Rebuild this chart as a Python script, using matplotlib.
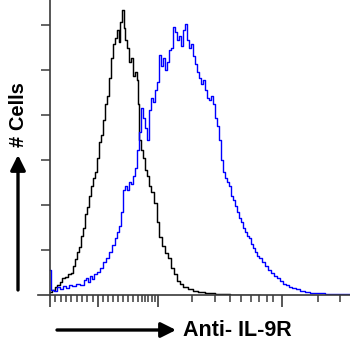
import matplotlib
matplotlib.use("Agg")
import matplotlib.pyplot as plt

plt.rcParams['font.family'] = ['Liberation Sans', 'DejaVu Sans']

# isotype control (black) - channel vs cell count
ctrl_x = [0, 3, 6, 8, 11, 13, 16, 19, 22, 24, 26, 28, 30, 32, 34, 36, 38, 40, 42, 44,
          46, 48, 50, 52, 54, 56, 58, 60, 62, 64, 66, 68, 69, 71, 73, 74, 76, 78, 80, 82,
          84, 86, 87, 88, 90, 92, 94, 96, 98, 100, 102, 105, 108, 110, 113, 116, 119, 122,
          125, 128, 131, 135, 140, 145, 150, 160, 170, 190, 210]
ctrl_y = [1.3, 2.2, 3.6, 4.4, 5.8, 7.6, 8.0, 9.3, 9.8, 12.9, 16.0, 19.1, 21.3, 26.2, 29.8,
          36.0, 39.1, 44.0, 48.4, 52.0, 54.7, 60.9, 68.0, 71.1, 77.8, 84.9, 88.4, 96.4, 105.3,
          111.6, 114.2, 117.8, 112.4, 121.3, 126.7, 118.7, 113.3, 109.8, 103.6, 105.3, 97.3,
          99.1, 95.6, 84.9, 68.9, 64.4, 60.9, 55.6, 52.9, 48.4, 45.8, 40.9, 32.4, 25.8, 21.8,
          18.7, 16.4, 12.0, 9.3, 6.2, 4.9, 3.6, 2.7, 1.8, 1.3, 0.9, 0.4, 0.2, 0.0]

# Anti-IL-9R stained (blue)
il9r_x = [0, 2, 5, 8, 11, 14, 17, 20, 24, 28, 32, 35, 37, 39, 41, 43, 45, 48, 51, 54,
          57, 60, 63, 66, 68, 70, 72, 74, 76, 78, 80, 82, 84, 86, 88, 90, 92, 94, 96, 98,
          100, 102, 104, 106, 108, 110, 112, 114, 116, 118, 120, 122, 124, 126, 128, 130,
          132, 134, 136, 138, 140, 142, 144, 146, 148, 150, 152, 154, 156, 158, 160, 162,
          164, 166, 168, 170, 172, 174, 176, 178, 180, 182, 184, 186, 188, 190, 192, 194,
          196, 198, 200, 202, 204, 206, 208, 210, 213, 216, 219, 222, 225, 228, 231, 234,
          237, 240, 244, 248, 252, 257, 262, 270, 280, 290, 300]
il9r_y = [11.1, 2.2, 1.8, 3.6, 2.7, 4.0, 3.1, 4.4, 4.0, 4.9, 4.4, 6.7, 7.6, 5.8, 8.4,
          7.1, 9.3, 10.2, 12.0, 14.7, 16.4, 19.1, 22.2, 25.3, 28.0, 30.7, 36.9, 46.7, 48.4,
          46.7, 50.2, 49.3, 52.9, 56.4, 64.4, 72.4, 83.1, 78.7, 74.2, 68.9, 82.2, 87.6, 85.8,
          91.1, 94.7, 106.7, 101.8, 105.3, 100.0, 103.6, 108.9, 109.8, 119.1, 116.9, 113.3,
          115.1, 110.7, 117.8, 120.4, 113.3, 109.8, 111.6, 106.2, 102.7, 99.1, 96.4, 93.8,
          95.6, 91.1, 87.6, 86.7, 88.4, 84.9, 78.7, 75.1, 68.9, 60.0, 54.7, 52.0, 50.2, 48.4,
          44.0, 42.2, 39.6, 36.9, 34.2, 32.4, 29.8, 28.0, 26.2, 25.3, 22.7, 20.9, 19.1, 17.3,
          16.4, 14.7, 12.9, 11.1, 9.8, 8.4, 7.6, 6.2, 4.9, 4.4, 3.6, 3.1, 2.7, 1.8, 1.3, 0.9,
          0.9, 0.4, 0.4, 0.4]

# axis ticks (biexponential-like display scale)
major_ticks = [0, 48, 108, 232]
minor_ticks = [5.3, 10.7, 16, 21.3, 26.7, 32, 37.3, 42.7, 53, 58, 63, 68, 73, 78, 83, 88,
               92, 95, 98, 102, 105, 142, 165, 180, 191, 201, 209, 217, 223, 268, 290]
y_ticks = [20, 40, 60, 80, 100, 120]

W, H = 350, 348
fig = plt.figure(figsize=(W / 100, H / 100), dpi=100)
ax = fig.add_axes([38 / W, (H - 295) / H, 312 / W, 295 / H])

ax.plot(ctrl_x, ctrl_y, color='black', lw=1.05, drawstyle='steps-mid')
ax.plot(il9r_x, il9r_y, color='#0000ff', lw=1.0, drawstyle='steps-mid')

ax.set_xlim(-12, 300)
ax.set_ylim(0, 131.1)

for s in ['top', 'right']:
    ax.spines[s].set_visible(False)
ax.spines['left'].set_position(('data', 0))
for s in ['left', 'bottom']:
    ax.spines[s].set_color('#3a3a3a')
    ax.spines[s].set_linewidth(1.2)

ax.set_yticks(y_ticks)
ax.set_yticklabels([])
ax.tick_params(axis='y', direction='out', length=6.5, width=1.1, color='#3a3a3a')

ax.set_xticks(major_ticks)
ax.set_xticks(minor_ticks, minor=True)
ax.set_xticklabels([])
ax.tick_params(axis='x', which='major', direction='out', length=8.5, width=1.2, color='#3a3a3a')
ax.tick_params(axis='x', which='minor', direction='out', length=5, width=1.1, color='#3a3a3a')

# axis captions with arrows
arrow = dict(arrowstyle='-|>,head_length=0.9,head_width=0.45', lw=2.4, color='black',
             shrinkA=0, shrinkB=0)
ax.annotate('', xy=(18, H - 155), xytext=(18, H - 290), xycoords='figure pixels',
            textcoords='figure pixels', arrowprops=arrow, annotation_clip=False)
ax.annotate('', xy=(176, H - 330), xytext=(57, H - 330), xycoords='figure pixels',
            textcoords='figure pixels', arrowprops=arrow, annotation_clip=False)

fig.text(18 / W, 1 - 115 / H, '# Cells', rotation=90, ha='center', va='center',
         fontsize=14.5, fontweight='bold')
fig.text(183 / W, 1 - 330 / H, 'Anti- IL-9R', ha='left', va='center',
         fontsize=15.5, fontweight='bold')

fig.savefig('out.png', dpi=100)
